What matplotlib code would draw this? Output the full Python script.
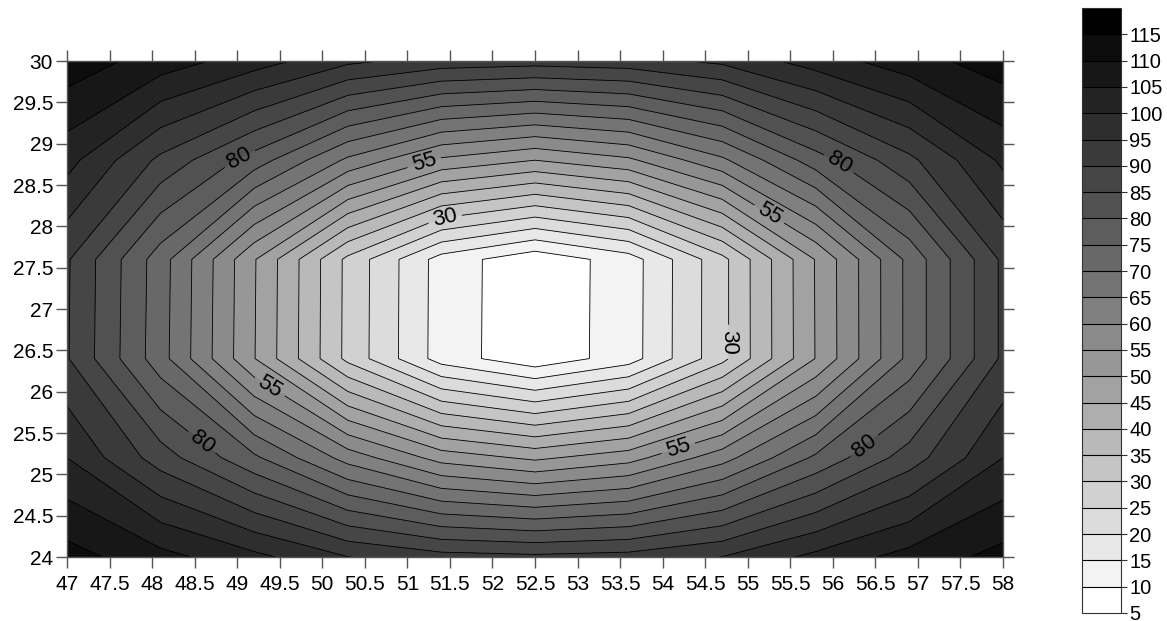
import numpy as np
import matplotlib
matplotlib.use("Agg")
import matplotlib.pyplot as plt

plt.rcParams['font.family'] = ['Liberation Sans', 'DejaVu Sans']

# grid of the surface (x step 1.1, y step 1.2)
x_vals = [47.0, 48.1, 49.2, 50.3, 51.4, 52.5, 53.6, 54.7, 55.8, 56.9, 58.0]
y_vals = [24.0, 25.2, 26.4, 27.6, 28.8, 30.0]

z_24 = [112.0, 106.7, 101.4, 95.1, 91.9, 91.1, 91.9, 95.1, 101.4, 106.9, 111.7]
z_252 = [100.0, 87.5, 76.0, 63.0, 53.0, 49.0, 53.0, 63.0, 76.0, 87.5, 100.0]
z_264 = [90.4, 72.0, 50.2, 28.6, 12.7, 6.4, 12.6, 28.5, 50.2, 71.5, 91.0]
z_276 = [90.6, 72.3, 50.4, 28.7, 12.8, 6.4, 12.5, 28.5, 50.3, 71.5, 91.0]
z_288 = [101.8, 88.8, 77.7, 64.0, 54.0, 50.0, 54.0, 64.0, 77.7, 88.8, 101.0]
z_30 = [113.0, 107.7, 102.4, 96.1, 92.9, 92.1, 92.9, 96.1, 102.4, 107.9, 112.7]

levels = list(range(5, 125, 5))
label_pos = {
    80: [(49.01, 28.86), (56.08, 28.77), (48.54, 25.33), (56.38, 25.33)],
    55: [(51.18, 28.83), (55.26, 28.16), (49.36, 26.02), (54.20, 25.26)],
    30: [(51.44, 28.10), (54.77, 26.60)],
}

x_ticks = [47 + 0.5 * i for i in range(23)]
x_labels = ['%g' % t for t in x_ticks]
y_ticks = [24 + 0.5 * i for i in range(13)]
y_labels = ['%g' % t for t in y_ticks]
cb_ticks = list(range(5, 120, 5))

Z = np.array([z_24, z_252, z_264, z_276, z_288, z_30])
X, Y = np.meshgrid(x_vals, y_vals)

n_bands = len(levels) - 1
grays = [str(1 - k / (n_bands - 1)) for k in range(n_bands)]

fig = plt.figure(figsize=(11.67, 6.21), dpi=100)
ax = fig.add_axes([67 / 1167, 64 / 621, 936 / 1167, 496 / 621])
cax = fig.add_axes([1082 / 1167, 8 / 621, 39 / 1167, 605 / 621])

cf = ax.contourf(X, Y, Z, levels=levels, colors=grays)
plain = [lv for lv in levels if lv not in label_pos]
ax.contour(X, Y, Z, levels=plain, colors='black', linewidths=0.6)
# labelled levels drawn one by one so clabel can cut gaps in them
for lv, pos in label_pos.items():
    cl = ax.contour(X, Y, Z, levels=[lv], colors='black', linewidths=0.6)
    ax.clabel(cl, manual=pos, inline=True, fontsize=16, fmt='%d',
              colors='black', inline_spacing=5)

ax.set_xlim(47, 58)
ax.set_ylim(24, 30)
ax.set_xticks(x_ticks)
ax.set_xticklabels(x_labels)
ax.set_yticks(y_ticks)
ax.set_yticklabels(y_labels)
ax.tick_params(axis='both', which='both', direction='out', length=8, width=1,
               color='#555555', labelsize=15, top=True, right=True,
               labeltop=False, labelright=False)
ax.tick_params(axis='x', pad=5)
ax.tick_params(axis='y', pad=2)
for sp in ax.spines.values():
    sp.set_color('#555555')
    sp.set_linewidth(1)

cb = fig.colorbar(cf, cax=cax, drawedges=True)
cb.set_ticks(cb_ticks)
cb.set_ticklabels([str(t) for t in cb_ticks])
cb.ax.tick_params(labelsize=14.5, length=4, width=0.8, color='#333333', pad=2)
cb.dividers.set_color('black')
cb.dividers.set_linewidth(0.8)
cb.outline.set_edgecolor('#333333')
cb.outline.set_linewidth(0.8)

fig.savefig('out.png', dpi=100)
